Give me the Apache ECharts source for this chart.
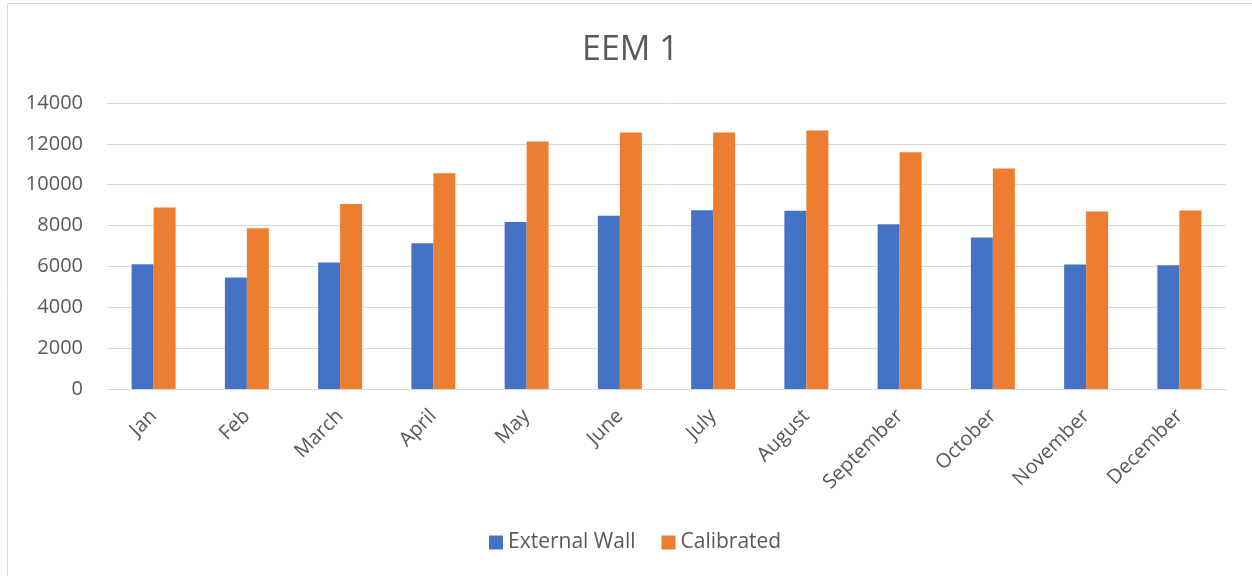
<!DOCTYPE html>
<html>
<head>
<meta charset="utf-8">
<script src="https://cdn.jsdelivr.net/npm/echarts@6/dist/echarts.min.js"></script>
<style>
html,body{margin:0;padding:0;background:#fff;}
#chart{width:1252px;height:576px;}
</style>
</head>
<body>
<div id="chart"></div>
<script>
const categories = ["Jan","Feb","March","April","May","June","July","August","September","October","November","December"];
const externalWall = [6110, 5460, 6190, 7140, 8170, 8480, 8750, 8720, 8070, 7420, 6100, 6060];
const calibrated = [8880, 7870, 9050, 10560, 12110, 12550, 12560, 12650, 11590, 10790, 8690, 8740];
const yTicks = [0, 2000, 4000, 6000, 8000, 10000, 12000, 14000];

const font = "'Open Sans', 'Liberation Sans', sans-serif";
const chart = echarts.init(document.getElementById('chart'), null, {renderer:'canvas'});
chart.setOption({
  animation: false,
  backgroundColor: '#fff',
  graphic: [{
    type: 'rect', shape: {x: 7.5, y: 3.5, width: 1300, height: 700},
    style: {fill: 'none', stroke: '#d9d9d9', lineWidth: 1}, silent: true
  }],
  title: {
    text: 'EEM 1', left: 577, top: 28,
    textStyle: {fontFamily: font, fontSize: 34, fontWeight: 'normal', color: '#595959'}
  },
  legend: {
    data: ['External Wall', 'Calibrated'],
    left: 484, top: 527, itemWidth: 14, itemHeight: 14, itemGap: 26,
    icon: 'rect',
    textStyle: {fontFamily: font, fontSize: 21, color: '#595959', padding: [0,0,0,0]}
  },
  grid: {left: 107, right: 26, top: 103, bottom: 187, containLabel: false},
  xAxis: {
    type: 'category', data: categories,
    axisLine: {lineStyle: {color: '#d9d9d9', width: 1}},
    axisTick: {show: false},
    axisLabel: {rotate: 45, interval: 0, margin: 24, fontFamily: font, fontSize: 20, color: '#595959'}
  },
  yAxis: {
    type: 'value', min: yTicks[0], max: yTicks[yTicks.length-1], interval: 2000,
    axisLine: {show: false}, axisTick: {show: false},
    splitLine: {lineStyle: {color: '#d9d9d9', width: 1}},
    axisLabel: {margin: 24, fontFamily: font, fontSize: 20, color: '#595959',
      formatter: function (v) { return String(v); }}
  },
  series: [
    {name: 'External Wall', type: 'bar', data: externalWall, barWidth: 22, barGap: '0%',
     itemStyle: {color: '#4472c4'}},
    {name: 'Calibrated', type: 'bar', data: calibrated, barWidth: 22, barGap: '0%',
     itemStyle: {color: '#ed7d31'}}
  ]
});
</script>
</body>
</html>
